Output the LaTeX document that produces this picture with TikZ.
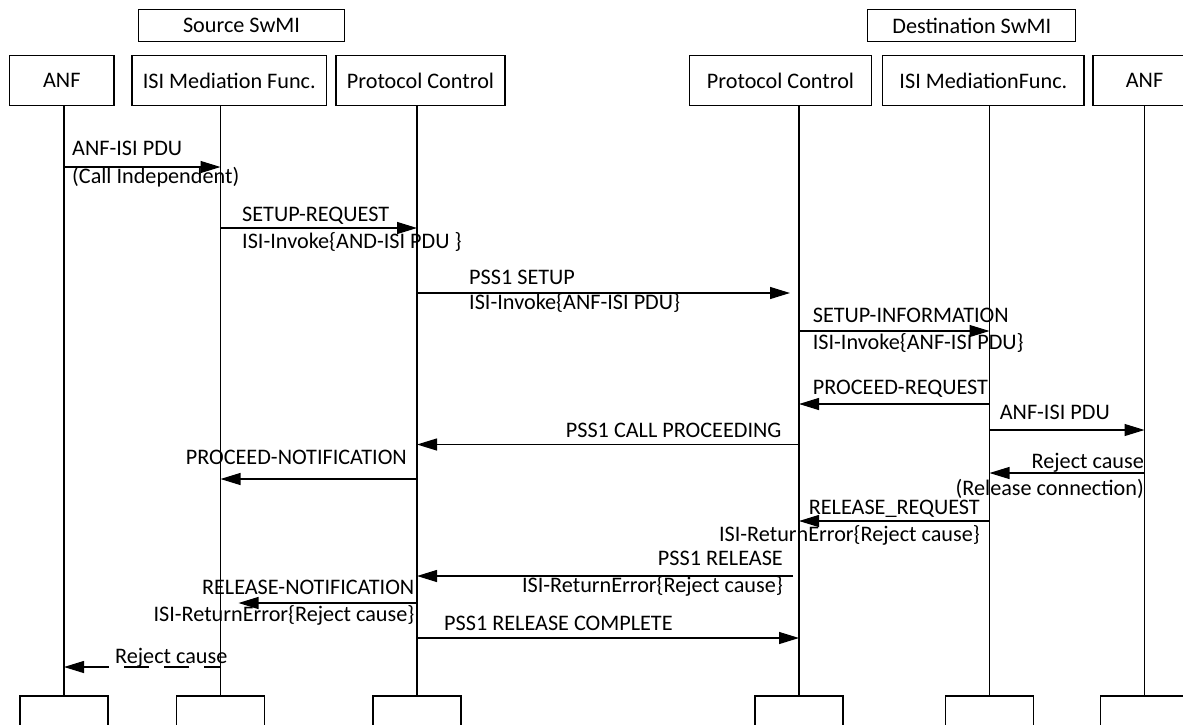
\documentclass[tikz,border=0pt]{standalone}
\usepackage{fontspec}
\setmainfont{Carlito}
\usetikzlibrary{arrows.meta}

\tikzset{
  entity/.style={draw, line width=1.2pt, inner sep=0pt, minimum height=50pt, font=\fontsize{22.2}{26}\selectfont},
  swmi/.style={draw, line width=1.2pt, inner sep=0pt, minimum height=32pt, font=\fontsize{22.2}{26}\selectfont},
  footbox/.style={draw, line width=1.2pt, inner sep=0pt, minimum width=88pt, minimum height=50pt},
  lifeline/.style={line width=1.2pt},
  msg/.style={line width=1.2pt, -{Triangle[length=20pt,width=12pt]}},
  msgtext/.style={inner sep=0pt, font=\fontsize{22.2}{26}\selectfont},
}

\begin{document}
\begin{tikzpicture}[x=1pt,y=1pt,yscale=-1,xscale=1]
\useasboundingbox (0,0) rectangle (1183,724);

%Shape: Rectangle (SwMI headers)
\node [swmi, minimum width=206pt] (srcSwmi) at (241.5,25.2) {Source SwMI};
\node [swmi, minimum width=208pt] (dstSwmi) at (971.8,25.5) {Destination SwMI};

%Shape: Rectangle (entities)
\node [entity, minimum width=104.4pt] (anfA) at (61.8,80.7) {ANF};
\node [entity, minimum width=194.5pt] (isiA) at (229.3,80.7) {ISI Mediation Func.};
\node [entity, minimum width=169pt] (pcA) at (420.5,80.7) {Protocol Control};
\node [entity, minimum width=182.4pt] (pcB) at (780.5,80.7) {Protocol Control};
\node [entity, minimum width=201.3pt] (isiB) at (983.4,80.7) {ISI MediationFunc.};
\node [entity, minimum width=103pt] (anfB) at (1144.5,80.7) {ANF};

%Shape: Rectangle (bottom boxes)
\node [footbox] (anfAf) at (64,721) {};
\node [footbox] (isiAf) at (220.5,721) {};
\node [footbox] (pcAf) at (417,721) {};
\node [footbox] (pcBf) at (799,721) {};
\node [footbox] (isiBf) at (989.5,721) {};
\node [footbox] (anfBf) at (1144.5,721) {};

%Straight Lines (lifelines)
\draw [lifeline] (anfA.south -| anfAf.north) -- (anfAf.north);
\draw [lifeline] (isiA.south -| isiAf.north) -- (isiAf.north);
\draw [lifeline] (pcA.south -| pcAf.north) -- (pcAf.north);
\draw [lifeline] (pcB.south -| pcBf.north) -- (pcBf.north);
\draw [lifeline] (isiB.south -| isiBf.north) -- (isiBf.north);
\draw [lifeline] (anfB.south -| anfBf.north) -- (anfBf.north);

% message rows
\coordinate (r1) at (0,167);
\coordinate (r2) at (0,228);
\coordinate (r3) at (0,293);
\coordinate (r4) at (0,331);
\coordinate (r5) at (0,404);
\coordinate (r6) at (0,430);
\coordinate (r7) at (0,444.5);
\coordinate (r8) at (0,479);
\coordinate (r9) at (0,473);
\coordinate (r10) at (0,521);
\coordinate (r11) at (0,576);
\coordinate (r12) at (0,603);
\coordinate (r13) at (0,638);
\coordinate (r14) at (0,667);

%Straight Lines (messages)
\draw [msg] (anfAf |- r1) -- (isiAf |- r1);
\draw [msg] (isiAf |- r2) -- (pcAf |- r2);
\draw [msg] (pcAf |- r3) -- ([xshift=-9pt]pcBf |- r3);
\draw [msg] (pcBf |- r4) -- (isiBf |- r4);
\draw [msg] (isiBf |- r5) -- (pcBf |- r5);
\draw [msg] (isiBf |- r6) -- (anfBf |- r6);
\draw [msg] (pcBf |- r7) -- (pcAf |- r7);
\draw [msg] (pcAf |- r8) -- (isiAf |- r8);
\draw [msg] (anfBf |- r9) -- (isiBf |- r9);
\draw [msg] (isiBf |- r10) -- (pcBf |- r10);
\draw [msg] ([xshift=-6pt]pcBf |- r11) -- (pcAf |- r11);
\draw [msg] (pcAf |- r12) -- ([xshift=18pt]isiAf |- r12);
\draw [msg] (pcAf |- r13) -- (pcBf |- r13);
\draw [msg, dash pattern=on 25pt off 15pt, dash phase=8pt] (isiAf |- r14) -- (anfAf |- r14);

% Text Node
\node [msgtext, anchor=base west] (t1a) at (72,155.4) {ANF-ISI PDU};
% Text Node
\node [msgtext, anchor=base west] (t1b) at (72,183) {(Call Independent)};
% Text Node
\node [msgtext, anchor=base west] (t2a) at (242,221.7) {SETUP-REQUEST};
% Text Node
\node [msgtext, anchor=base west] (t2b) at (242,248.3) {ISI-Invoke\{AND-ISI PDU \}};
% Text Node
\node [msgtext, anchor=base west] (t3a) at (469,284) {PSS1 SETUP};
% Text Node
\node [msgtext, anchor=base west] (t3b) at (469,309.3) {ISI-Invoke\{ANF-ISI PDU\}};
% Text Node
\node [msgtext, anchor=base west] (t4a) at (812.6,322.3) {SETUP-INFORMATION};
% Text Node
\node [msgtext, anchor=base west] (t4b) at (812.6,349.3) {ISI-Invoke\{ANF-ISI PDU\}};
% Text Node
\node [msgtext, anchor=base west] (t5) at (812.6,394) {PROCEED-REQUEST};
% Text Node
\node [msgtext, anchor=base west] (t6) at (999.6,419.3) {ANF-ISI PDU};
% Text Node
\node [msgtext, anchor=base east] (t7) at (781.7,437.3) {PSS1 CALL PROCEEDING};
% Text Node
\node [msgtext, anchor=base east] (t8) at (407,464) {PROCEED-NOTIFICATION};
% Text Node
\node [msgtext, anchor=base east] (t9a) at (1144,468.3) {Reject cause};
% Text Node
\node [msgtext, anchor=base east] (t9b) at (1144,495) {(Release connection)};
% Text Node
\node [msgtext, anchor=base east] (t10a) at (980,514.3) {RELEASE\_REQUEST};
% Text Node
\node [msgtext, anchor=base east] (t10b) at (980,541.7) {ISI-ReturnError\{Reject cause\}};
% Text Node
\node [msgtext, anchor=base east] (t11a) at (783,565.7) {PSS1 RELEASE};
% Text Node
\node [msgtext, anchor=base east] (t11b) at (783,592.3) {ISI-ReturnError\{Reject cause\}};
% Text Node
\node [msgtext, anchor=base east] (t12a) at (414.5,594) {RELEASE-NOTIFICATION};
% Text Node
\node [msgtext, anchor=base east] (t12b) at (414.5,621) {ISI-ReturnError\{Reject cause\}};
% Text Node
\node [msgtext, anchor=base west] (t13) at (444,630.7) {PSS1 RELEASE COMPLETE};
% Text Node
\node [msgtext, anchor=base west] (t14) at (115,663.3) {Reject cause};

\end{tikzpicture}
\end{document}
